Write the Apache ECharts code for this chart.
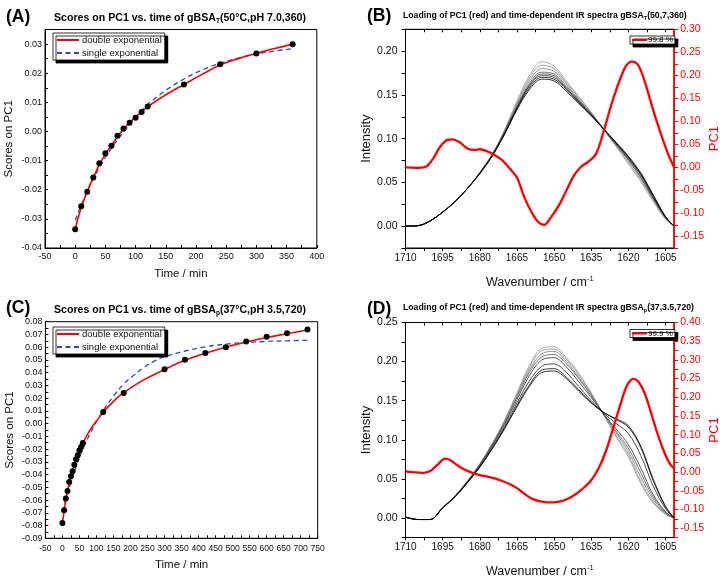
<!DOCTYPE html>
<html><head><meta charset="utf-8">
<script src="https://cdn.jsdelivr.net/npm/echarts@6/dist/echarts.min.js"></script>
<style>html,body{margin:0;padding:0;background:#fff}#c{width:722px;height:579px}</style>
</head><body><div id="c"></div>
<script>
// ---------- Panel A data ----------
var timeA  = [0,10,20,30,40,50,60,70,80,90,100,110,120,180,240,300,360];
var scoreA = [-0.0336,-0.0257,-0.0207,-0.0158,-0.0109,-0.0075,-0.0049,-0.0015,0.0010,0.0030,0.0047,0.0067,0.0086,0.0161,0.0231,0.0268,0.0299];
var dblA_t = [0,5,10,20,30,40,50,60,70,80,90,100,110,120,150,180,210,240,270,300,330,360];
var dblA   = [-0.0335,-0.0295,-0.0262,-0.0205,-0.0158,-0.0114,-0.0078,-0.0047,-0.0018,0.0008,0.0030,0.0050,0.0068,0.0085,0.0126,0.0161,0.0196,0.0228,0.0250,0.0268,0.0285,0.0299];
var sglA_t = [0,10,20,30,40,60,80,100,120,150,180,210,240,270,300,330,360];
var sglA   = [-0.0305,-0.0253,-0.0205,-0.0163,-0.0124,-0.0057,-0.0002,0.0048,0.0092,0.0141,0.0180,0.0211,0.0234,0.0252,0.0266,0.0276,0.0284];
var xLabA = [-50,0,50,100,150,200,250,300,350,400];
var yLabA = [-0.04,-0.03,-0.02,-0.01,0,0.01,0.02,0.03];

// ---------- Panel C data ----------
var timeC  = [0,5,10,15,20,25,30,35,40,45,50,55,60,120,180,300,360,420,480,540,600,660,720];
var scoreC = [-0.0780,-0.0680,-0.0588,-0.0528,-0.0458,-0.0413,-0.0374,-0.0322,-0.0280,-0.0248,-0.0209,-0.0183,-0.0152,0.0092,0.0241,0.0426,0.0502,0.0554,0.0600,0.0644,0.0682,0.0710,0.0738];
var dblC_t = [0,5,10,15,20,30,40,50,60,80,100,120,150,180,240,300,360,420,480,540,600,660,720];
var dblC   = [-0.0780,-0.0685,-0.0600,-0.0530,-0.0465,-0.0370,-0.0285,-0.0215,-0.0155,-0.0055,0.0020,0.0090,0.0175,0.0243,0.0345,0.0425,0.0497,0.0553,0.0600,0.0640,0.0676,0.0706,0.0735];
var sglC_t = [0,10,20,30,40,60,80,100,120,150,180,210,240,270,300,360,420,480,540,600,660,720];
var sglC   = [-0.0690,-0.0590,-0.0500,-0.0420,-0.0340,-0.0200,-0.0085,0.0015,0.0104,0.0215,0.0310,0.0380,0.0443,0.0490,0.0525,0.0570,0.0603,0.0624,0.0637,0.0645,0.0650,0.0654];
var xLabC = [-50,0,50,100,150,200,250,300,350,400,450,500,550,600,650,700,750];
var yLabC = [-0.09,-0.08,-0.07,-0.06,-0.05,-0.04,-0.03,-0.02,-0.01,0,0.01,0.02,0.03,0.04,0.05,0.06,0.07,0.08];

// ---------- Panel B data (IR spectra + PC1 loading) ----------
var wn = [1710,1705,1700,1695,1690,1685,1680,1675,1670,1665,1660,1655,1650,1645,1640,1635,1630,1625,1620,1615,1610,1605,1601.5];
var specB1 = [0,0.0005,0.006,0.016,0.028,0.043,0.060,0.080,0.105,0.133,0.156,0.168,0.166,0.154,0.140,0.126,0.111,0.096,0.080,0.061,0.036,0.011,0];
var specB2 = [0,0.0005,0.006,0.016,0.028,0.043,0.060,0.080,0.105,0.134,0.158,0.170,0.168,0.156,0.141,0.127,0.111,0.095,0.079,0.060,0.035,0.011,0];
var specB3 = [0,0.0005,0.006,0.016,0.028,0.043,0.060,0.081,0.106,0.135,0.160,0.172,0.170,0.157,0.142,0.127,0.111,0.095,0.078,0.059,0.034,0.010,0];
var specB4 = [0,0.0005,0.006,0.016,0.028,0.043,0.061,0.081,0.107,0.136,0.161,0.174,0.172,0.158,0.143,0.128,0.111,0.094,0.077,0.058,0.033,0.010,0];
var specB5 = [0,0.0005,0.006,0.016,0.028,0.043,0.061,0.081,0.107,0.137,0.163,0.176,0.174,0.160,0.144,0.128,0.111,0.094,0.076,0.056,0.032,0.010,0];
var specB6 = [0,0.0005,0.006,0.016,0.028,0.043,0.061,0.082,0.108,0.139,0.166,0.180,0.177,0.162,0.145,0.129,0.111,0.093,0.075,0.055,0.031,0.009,0];
var specB7 = [0,0.0005,0.006,0.016,0.028,0.043,0.061,0.082,0.109,0.141,0.169,0.184,0.180,0.164,0.147,0.130,0.111,0.092,0.073,0.053,0.030,0.009,0];
var specB8 = [0,0.0005,0.006,0.016,0.028,0.043,0.061,0.082,0.110,0.143,0.172,0.188,0.183,0.166,0.148,0.130,0.110,0.091,0.071,0.051,0.028,0.008,0];
var pcB_wn = [1710,1706,1702,1699,1696,1693,1691,1688,1685,1682,1680,1677,1674,1671,1668,1665,1662,1659,1656.5,1654,1651.5,1648,1645,1642,1639,1636,1633,1630,1627,1624,1621,1618.5,1616,1613,1610,1607,1604,1601.5];
var pcB    = [0.000,-0.001,0.001,0.018,0.045,0.060,0.061,0.054,0.041,0.038,0.0395,0.035,0.027,0.016,-0.002,-0.022,-0.065,-0.098,-0.118,-0.125,-0.110,-0.082,-0.050,-0.018,0.002,0.013,0.030,0.078,0.134,0.182,0.220,0.230,0.222,0.180,0.125,0.075,0.030,0.000];

// ---------- Panel D data ----------
var specD1 = [0.001,-0.002,-0.002,0.013,0.027,0.045,0.065,0.088,0.114,0.142,0.168,0.186,0.188,0.178,0.162,0.147,0.135,0.127,0.118,0.092,0.050,0.015,0];
var specD2 = [0.001,-0.002,-0.002,0.013,0.027,0.045,0.065,0.089,0.115,0.144,0.170,0.189,0.191,0.180,0.164,0.148,0.135,0.126,0.116,0.090,0.048,0.014,0];
var specD3 = [0.001,-0.002,-0.002,0.013,0.027,0.046,0.066,0.090,0.117,0.147,0.175,0.194,0.197,0.186,0.168,0.150,0.134,0.121,0.108,0.080,0.041,0.012,0];
var specD4 = [0.001,-0.002,-0.002,0.013,0.028,0.046,0.067,0.092,0.120,0.151,0.182,0.202,0.205,0.193,0.174,0.154,0.133,0.114,0.094,0.064,0.030,0.008,0];
var specD5 = [0.001,-0.002,-0.002,0.013,0.028,0.046,0.068,0.093,0.121,0.154,0.186,0.206,0.209,0.197,0.178,0.156,0.133,0.111,0.089,0.058,0.027,0.007,0];
var specD6 = [0.001,-0.002,-0.002,0.013,0.028,0.047,0.068,0.094,0.123,0.156,0.189,0.210,0.213,0.200,0.180,0.158,0.133,0.109,0.085,0.052,0.024,0.006,0];
var specD7 = [0.001,-0.002,-0.002,0.013,0.028,0.047,0.069,0.095,0.124,0.158,0.192,0.214,0.216,0.203,0.183,0.159,0.132,0.106,0.081,0.047,0.021,0.005,0];
var specD8 = [0.001,-0.002,-0.002,0.013,0.028,0.047,0.069,0.095,0.125,0.160,0.195,0.217,0.219,0.205,0.185,0.160,0.132,0.104,0.078,0.044,0.019,0.005,0];
var pcD_wn = [1710,1706,1703,1700,1697,1694,1692,1689,1686,1683,1680,1677,1674,1671,1668,1665,1662,1659,1656,1653,1650,1647,1644,1641,1638,1635,1632,1629,1626,1623,1620.5,1618,1616,1613.5,1611,1608,1605,1603,1601.5];
var pcD    = [0.002,-0.001,-0.002,0.003,0.020,0.036,0.032,0.018,0.006,-0.002,-0.008,-0.012,-0.017,-0.024,-0.032,-0.043,-0.058,-0.071,-0.078,-0.081,-0.081,-0.078,-0.070,-0.058,-0.042,-0.022,0.010,0.057,0.120,0.185,0.232,0.249,0.242,0.212,0.162,0.098,0.045,0.020,0.010];

var xLabWn = [1710,1695,1680,1665,1650,1635,1620,1605];
var yLabBL = [0,0.05,0.10,0.15,0.20];
var yLabBR = [-0.15,-0.10,-0.05,0,0.05,0.10,0.15,0.20,0.25,0.30];
var yLabDL = [0,0.05,0.10,0.15,0.20,0.25];
var yLabDR = [-0.15,-0.10,-0.05,0,0.05,0.10,0.15,0.20,0.25,0.30,0.35,0.40];

// ---------- helpers ----------
var FONT = '"Liberation Sans", Arial, sans-serif';
function pairs(x, y){ return x.map(function(v,i){ return [v, y[i]]; }); }
function steps(a, b, s){ var r=[]; for (var v=a; v<=b+1e-9; v+=s) r.push(+v.toFixed(5)); return r; }
function fmt2(v){ return (Math.abs(v)<1e-9?0:v).toFixed(2); }
function fmtInt(v){ return String(Math.round(v)); }

var BLACK = '#000';
function baseAxis(o){
  return Object.assign({
    type:'value', splitLine:{show:false},
    axisLine:{onZero:false, lineStyle:{color:BLACK, width:1}},
    nameLocation:'middle',
    nameTextStyle:{fontFamily:FONT, color:'#111'}
  }, o);
}
var supRich = {a:{fontSize:12.5, fontFamily:FONT, color:'#111', verticalAlign:'middle'}, s:{fontSize:7.5, fontFamily:FONT, color:'#111', verticalAlign:'middle', padding:[0,0,8,0]}};

var xAxes = [
  baseAxis({gridIndex:0, min:-50, max:400,
    axisTick:{inside:true, length:3, customValues:steps(-50,400,25), lineStyle:{color:BLACK}},
    axisLabel:{customValues:xLabA, fontSize:9, color:'#111', margin:4, fontFamily:FONT, formatter:fmtInt},
    name:'Time / min', nameGap:20, nameTextStyle:{fontSize:11.5, fontFamily:FONT, color:'#111'}}),
  baseAxis({gridIndex:1, min:1601.5, max:1710, inverse:true,
    axisTick:{inside:false, length:3, customValues:steps(1605,1710,7.5), lineStyle:{color:BLACK}},
    axisLabel:{customValues:xLabWn, fontSize:10, color:'#111', margin:5, fontFamily:FONT, formatter:fmtInt},
    name:'{a|Wavenumber / cm}{s|-1}', nameGap:27,
    nameTextStyle:{fontFamily:FONT, color:'#111', rich:supRich}}),
  baseAxis({gridIndex:1, position:'top', min:1601.5, max:1710, inverse:true,
    axisTick:{inside:true, length:3, customValues:steps(1605,1710,7.5), lineStyle:{color:BLACK}},
    axisLabel:{show:false}}),
  baseAxis({gridIndex:2, min:-50, max:750,
    axisTick:{inside:true, length:3, customValues:steps(-50,750,25), lineStyle:{color:BLACK}},
    axisLabel:{customValues:xLabC, fontSize:8.6, color:'#111', margin:6, fontFamily:FONT, hideOverlap:false, formatter:fmtInt},
    name:'Time / min', nameGap:21, nameTextStyle:{fontSize:11.5, fontFamily:FONT, color:'#111'}}),
  baseAxis({gridIndex:3, min:1601.5, max:1710, inverse:true,
    axisTick:{inside:false, length:3, customValues:steps(1605,1710,7.5), lineStyle:{color:BLACK}},
    axisLabel:{customValues:xLabWn, fontSize:10, color:'#111', margin:5, fontFamily:FONT, formatter:fmtInt},
    name:'{a|Wavenumber / cm}{s|-1}', nameGap:26,
    nameTextStyle:{fontFamily:FONT, color:'#111', rich:supRich}}),
  baseAxis({gridIndex:3, position:'top', min:1601.5, max:1710, inverse:true,
    axisTick:{inside:true, length:3, customValues:steps(1605,1710,7.5), lineStyle:{color:BLACK}},
    axisLabel:{show:false}})
];

var RED = '#ff0000';
var yAxes = [
  baseAxis({gridIndex:0, min:-0.04, max:0.035,
    axisTick:{inside:true, length:3, customValues:steps(-0.04,0.035,0.005), lineStyle:{color:BLACK}},
    axisLabel:{customValues:yLabA, fontSize:9, color:'#111', margin:3, formatter:fmt2, fontFamily:FONT},
    name:'Scores on PC1', nameGap:30, nameTextStyle:{fontSize:11.5, fontFamily:FONT, color:'#111'}}),
  baseAxis({gridIndex:1, min:-0.025, max:0.225,
    axisTick:{inside:false, length:4, customValues:steps(-0.025,0.225,0.025), lineStyle:{color:BLACK}},
    axisLabel:{customValues:yLabBL, fontSize:10.5, color:'#111', margin:8, formatter:fmt2, fontFamily:FONT},
    name:'Intensity', nameGap:30, nameTextStyle:{fontSize:13, fontFamily:FONT, color:'#111'}}),
  baseAxis({gridIndex:1, position:'right', min:-0.175, max:0.30,
    axisLine:{onZero:false, lineStyle:{color:RED, width:1.6}},
    axisTick:{inside:false, length:4, customValues:steps(-0.175,0.30,0.025), lineStyle:{color:RED}},
    axisLabel:{customValues:yLabBR, fontSize:10.5, color:RED, margin:6, formatter:fmt2, fontFamily:FONT},
    name:'PC1', nameGap:33, nameTextStyle:{fontSize:13, fontFamily:FONT, color:RED}}),
  baseAxis({gridIndex:2, min:-0.09, max:0.08,
    axisTick:{inside:true, length:3, customValues:steps(-0.09,0.08,0.005), lineStyle:{color:BLACK}},
    axisLabel:{customValues:yLabC, fontSize:9, color:'#111', margin:3, formatter:fmt2, fontFamily:FONT},
    name:'Scores on PC1', nameGap:30, nameTextStyle:{fontSize:11.5, fontFamily:FONT, color:'#111'}}),
  baseAxis({gridIndex:3, min:-0.025, max:0.25,
    axisTick:{inside:false, length:4, customValues:steps(-0.025,0.25,0.025), lineStyle:{color:BLACK}},
    axisLabel:{customValues:yLabDL, fontSize:10.5, color:'#111', margin:8, formatter:fmt2, fontFamily:FONT},
    name:'Intensity', nameGap:30, nameTextStyle:{fontSize:13, fontFamily:FONT, color:'#111'}}),
  baseAxis({gridIndex:3, position:'right', min:-0.175, max:0.40,
    axisLine:{onZero:false, lineStyle:{color:RED, width:1.6}},
    axisTick:{inside:false, length:4, customValues:steps(-0.175,0.40,0.025), lineStyle:{color:RED}},
    axisLabel:{customValues:yLabDR, fontSize:10.5, color:RED, margin:6, formatter:fmt2, fontFamily:FONT},
    name:'PC1', nameGap:33, nameTextStyle:{fontSize:13, fontFamily:FONT, color:RED}})
];

var series = [];
function fitLines(xi, yi, dT, dV, sT, sV){
  series.push({type:'line', name:'double exponential', xAxisIndex:xi, yAxisIndex:yi, data:pairs(dT,dV),
    smooth:0.4, symbol:'none', lineStyle:{color:RED, width:1.6}, itemStyle:{color:RED}, z:3});
  series.push({type:'line', name:'single exponential', xAxisIndex:xi, yAxisIndex:yi, data:pairs(sT,sV),
    smooth:0.4, symbol:'none', lineStyle:{color:'#2d4ea3', width:1.3, type:[5,3.5]}, itemStyle:{color:'#2d4ea3'}, z:2});
}
function points(xi, yi, t, v){
  series.push({type:'scatter', name:'pts', xAxisIndex:xi, yAxisIndex:yi, data:pairs(t,v),
    symbolSize:6, itemStyle:{color:'#000', opacity:1}, z:4});
}
points(0,0,timeA,scoreA); fitLines(0,0,dblA_t,dblA,sglA_t,sglA);
points(3,3,timeC,scoreC); fitLines(3,3,dblC_t,dblC,sglC_t,sglC);

var specBs = [specB8,specB7,specB6,specB5,specB4,specB3,specB2,specB1];
var specDs = [specD8,specD7,specD6,specD5,specD4,specD3,specD2,specD1];
var shades = ['#9a9a9a','#888','#777','#555','#333','#222','#111','#000'];
function spectra(xi, yi, list){
  list.forEach(function(s, k){
    series.push({type:'line', name:'spec', xAxisIndex:xi, yAxisIndex:yi, data:pairs(wn,s),
      smooth:0.35, symbol:'none', silent:true, lineStyle:{color:shades[k], width:0.8}, z:2});
  });
}
spectra(1,1,specBs);
spectra(4,4,specDs);
series.push({type:'line', name:'99.8 %', xAxisIndex:1, yAxisIndex:2, data:pairs(pcB_wn,pcB),
  smooth:0.35, symbol:'none', lineStyle:{color:RED, width:2.3}, itemStyle:{color:RED}, z:5});
series.push({type:'line', name:'99.9 %', xAxisIndex:4, yAxisIndex:5, data:pairs(pcD_wn,pcD),
  smooth:0.35, symbol:'none', lineStyle:{color:RED, width:2.3}, itemStyle:{color:RED}, z:5});

function bigLab(txt, l, t){ return {text:txt, left:l, top:t, textStyle:{fontFamily:FONT, fontSize:17.5, fontWeight:'bold', color:'#000'}}; }
function sub(main1, s, main2, size, l, t){
  return {text:'{b|'+main1+'}{s|'+s+'}{b|'+main2+'}', left:l, top:t,
    textStyle:{rich:{
      b:{fontFamily:FONT, fontSize:size, fontWeight:'bold', color:'#000', verticalAlign:'middle'},
      s:{fontFamily:FONT, fontSize:size*0.62, fontWeight:'bold', color:'#000', verticalAlign:'middle', padding:[size*0.55,0,0,0]}}}};
}

function legendBox(o){
  return Object.assign({backgroundColor:'#fff', borderColor:'#000', borderWidth:0.8,
    shadowColor:'#000', shadowBlur:0.01, shadowOffsetX:3, shadowOffsetY:3,
    orient:'vertical', selectedMode:false,
    itemStyle:{color:'transparent', borderColor:'transparent', borderWidth:0, opacity:0}}, o);
}

var option = {
  animation:false,
  backgroundColor:'#fff',
  title:[
    bigLab('(A)', 1, 3),
    sub('Scores on PC1 vs. time of gBSA','T','(50°C,pH 7.0,360)', 10.6, 49, 7),
    bigLab('(B)', 362, 2),
    sub('Loading of PC1 (red) and time-dependent IR spectra gBSA','T','(50,7,360)', 8.7, 398, 6),
    bigLab('(C)', 1, 294),
    sub('Scores on PC1 vs. time of gBSA','p','(37°C,pH 3.5,720)', 10.6, 49, 299),
    bigLab('(D)', 362, 295),
    sub('Loading of PC1 (red) and time-dependent IR spectra gBSA','p','(37,3.5,720)', 8.7, 398, 298)
  ],
  grid:[
    {left:45, top:29.5, width:271.8, height:218.5, show:true, borderColor:'#000', borderWidth:1, backgroundColor:'transparent'},
    {left:405.5, top:29.3, width:272, height:218.7, show:true, borderColor:'#000', borderWidth:1, backgroundColor:'transparent'},
    {left:45.4, top:321.7, width:272.3, height:216.6, show:true, borderColor:'#000', borderWidth:1, backgroundColor:'transparent'},
    {left:405.5, top:322.5, width:272, height:220.2, show:true, borderColor:'#000', borderWidth:1, backgroundColor:'transparent'}
  ],
  legend:[
    legendBox({left:53, top:33, data:['double exponential','single exponential'], itemWidth:22, itemHeight:8, itemGap:3,
      padding:[2,3,2,3], textStyle:{fontFamily:FONT, fontSize:9.5, color:'#111', padding:[0,0,0,-2]}}),
    legendBox({left:53, top:327, data:['double exponential','single exponential'], itemWidth:22, itemHeight:8, itemGap:3,
      padding:[2,3,2,3], textStyle:{fontFamily:FONT, fontSize:9.5, color:'#111', padding:[0,0,0,-2]}}),
    legendBox({left:630, top:36, data:['99.8 %'], itemWidth:15, itemHeight:8,
      padding:[0,2,0,1], textStyle:{fontFamily:FONT, fontSize:8, color:'#000', padding:[0,0,0,-4]}}),
    legendBox({left:630, top:329.5, data:['99.9 %'], itemWidth:15, itemHeight:8,
      padding:[0,2,0,1], textStyle:{fontFamily:FONT, fontSize:8, color:'#000', padding:[0,0,0,-4]}})
  ],
  xAxis:xAxes,
  yAxis:yAxes,
  series:series
};
var chart = echarts.init(document.getElementById('c'), null, {renderer:'canvas'});
chart.setOption(option);
</script></body></html>
